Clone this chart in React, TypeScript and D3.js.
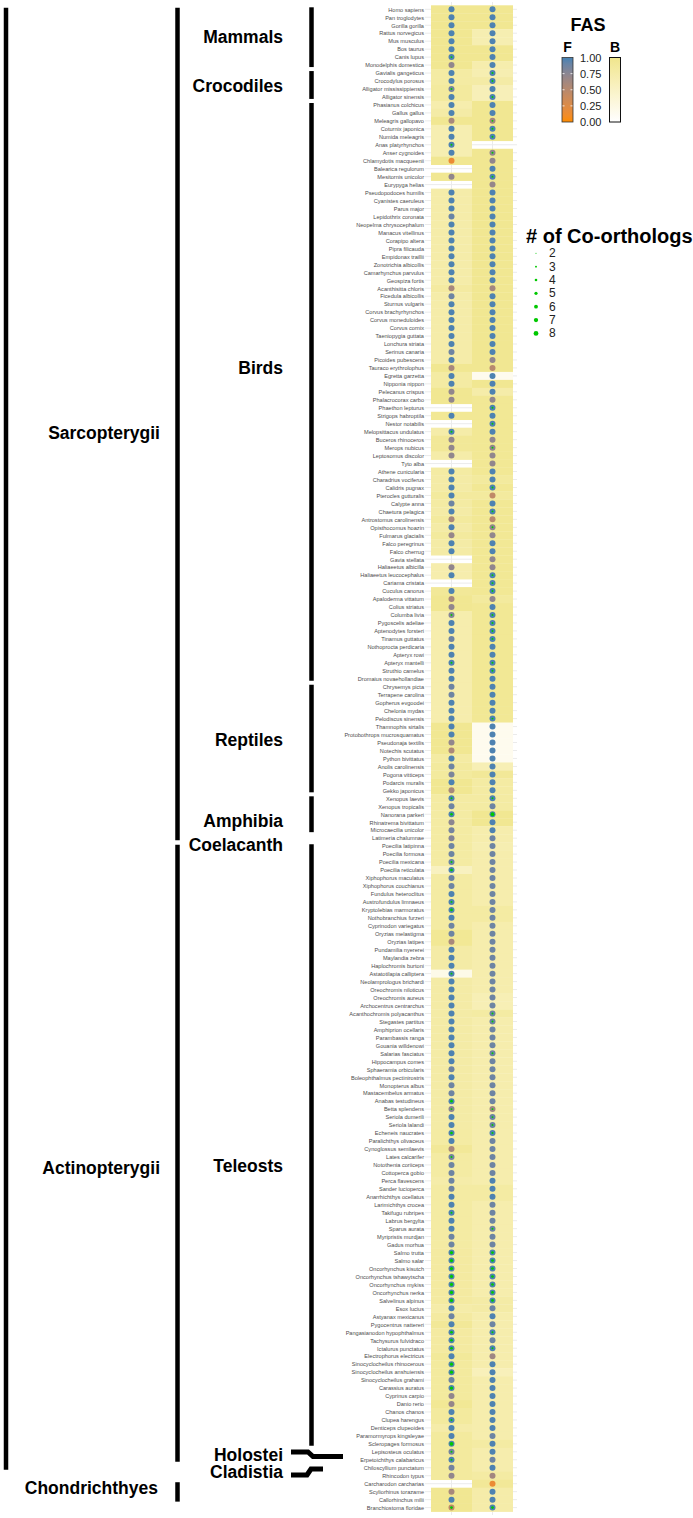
import React from "react";
import * as d3 from "d3";

const species = [
  "Homo sapiens","Pan troglodytes","Gorilla gorilla","Rattus norvegicus","Mus musculus","Bos taurus","Canis lupus","Monodelphis domestica","Gavialis gangeticus","Crocodylus porosus",
  "Alligator mississippiensis","Alligator sinensis","Phasianus colchicus","Gallus gallus","Meleagris gallopavo","Coturnix japonica","Numida meleagris","Anas platyrhynchos","Anser cygnoides","Chlamydotis macqueenii",
  "Balearica regulorum","Mesitornis unicolor","Eurypyga helias","Pseudopodoces humilis","Cyanistes caeruleus","Parus major","Lepidothrix coronata","Neopelma chrysocephalum","Manacus vitellinus","Corapipo altera",
  "Pipra filicauda","Empidonax traillii","Zonotrichia albicollis","Camarhynchus parvulus","Geospiza fortis","Acanthisitta chloris","Ficedula albicollis","Sturnus vulgaris","Corvus brachyrhynchos","Corvus moneduloides",
  "Corvus cornix","Taeniopygia guttata","Lonchura striata","Serinus canaria","Picoides pubescens","Tauraco erythrolophus","Egretta garzetta","Nipponia nippon","Pelecanus crispus","Phalacrocorax carbo",
  "Phaethon lepturus","Strigops habroptila","Nestor notabilis","Melopsittacus undulatus","Buceros rhinoceros","Merops nubicus","Leptosomus discolor","Tyto alba","Athene cunicularia","Charadrius vociferus",
  "Calidris pugnax","Pterocles gutturalis","Calypte anna","Chaetura pelagica","Antrostomus carolinensis","Opisthocomus hoazin","Fulmarus glacialis","Falco peregrinus","Falco cherrug","Gavia stellata",
  "Haliaeetus albicilla","Haliaeetus leucocephalus","Cariama cristata","Cuculus canorus","Apaloderma vittatum","Colius striatus","Columba livia","Pygoscelis adeliae","Aptenodytes forsteri","Tinamus guttatus",
  "Nothoprocta perdicaria","Apteryx rowi","Apteryx mantelli","Struthio camelus","Dromaius novaehollandiae","Chrysemys picta","Terrapene carolina","Gopherus evgoodei","Chelonia mydas","Pelodiscus sinensis",
  "Thamnophis sirtalis","Protobothrops mucrosquamatus","Pseudonaja textilis","Notechis scutatus","Python bivittatus","Anolis carolinensis","Pogona vitticeps","Podarcis muralis","Gekko japonicus","Xenopus laevis",
  "Xenopus tropicalis","Nanorana parkeri","Rhinatrema bivittatum","Microcaecilia unicolor","Latimeria chalumnae","Poecilia latipinna","Poecilia formosa","Poecilia mexicana","Poecilia reticulata","Xiphophorus maculatus",
  "Xiphophorus couchianus","Fundulus heteroclitus","Austrofundulus limnaeus","Kryptolebias marmoratus","Nothobranchius furzeri","Cyprinodon variegatus","Oryzias melastigma","Oryzias latipes","Pundamilia nyererei","Maylandia zebra",
  "Haplochromis burtoni","Astatotilapia calliptera","Neolamprologus brichardi","Oreochromis niloticus","Oreochromis aureus","Archocentrus centrarchus","Acanthochromis polyacanthus","Stegastes partitus","Amphiprion ocellaris","Parambassis ranga",
  "Gouania willdenowi","Salarias fasciatus","Hippocampus comes","Sphaeramia orbicularis","Boleophthalmus pectinirostris","Monopterus albus","Mastacembelus armatus","Anabas testudineus","Betta splendens","Seriola dumerili",
  "Seriola lalandi","Echeneis naucrates","Paralichthys olivaceus","Cynoglossus semilaevis","Lates calcarifer","Notothenia coriiceps","Cottoperca gobio","Perca flavescens","Sander lucioperca","Anarrhichthys ocellatus",
  "Larimichthys crocea","Takifugu rubripes","Labrus bergylta","Sparus aurata","Myripristis murdjan","Gadus morhua","Salmo trutta","Salmo salar","Oncorhynchus kisutch","Oncorhynchus tshawytscha",
  "Oncorhynchus mykiss","Oncorhynchus nerka","Salvelinus alpinus","Esox lucius","Astyanax mexicanus","Pygocentrus nattereri","Pangasianodon hypophthalmus","Tachysurus fulvidraco","Ictalurus punctatus","Electrophorus electricus",
  "Sinocyclocheilus rhinocerous","Sinocyclocheilus anshuiensis","Sinocyclocheilus grahami","Carassius auratus","Cyprinus carpio","Danio rerio","Chanos chanos","Clupea harengus","Denticeps clupeoides","Paramormyrops kingsleyae",
  "Scleropages formosus","Lepisosteus oculatus","Erpetoichthys calabaricus","Chiloscyllium punctatum","Rhincodon typus","Carcharodon carcharias","Scyliorhinus torazame","Callorhinchus milii","Branchiostoma floridae"
];

const genes = ["gene1", "gene2"];

// gene 1 (left column): forward FAS (dot colour), backward FAS (tile), co-orthologs
const fwd1 = [
  .98,.98,.98,.98,.98,.98,.98,.72,.98,.98,
  .85,.98,.98,.98,.6,.98,.98,.98,.98,.15,
  null,.72,null,.98,.98,.98,.9,.98,.98,.98,
  .98,.98,.98,.98,.98,.6,.88,.98,.98,.98,
  .98,.98,.98,.88,.98,.6,.98,.98,.72,.72,
  null,.98,null,.98,.72,.72,.72,null,.98,.98,
  .98,.98,.88,.98,.6,.98,.7,.98,.98,null,
  .72,.98,null,.98,.6,.72,.78,.98,.98,.88,
  .98,.98,.98,.98,.98,.88,.88,.98,.98,.98,
  .98,.98,.72,.58,.98,.88,.82,.98,.6,.98,
  .88,.98,.75,.85,.78,.88,.88,.9,.98,.88,
  .88,.98,.98,.98,.98,.88,.88,.6,.98,.98,
  .98,.98,.98,.98,.98,.98,.98,.98,.98,.98,
  .98,.98,.98,.88,.98,.88,.88,.98,.75,.98,
  .98,.98,.98,.6,.85,.88,.88,.88,.88,.98,
  .98,.98,.98,.98,.88,.88,.98,.98,.98,.98,
  .98,.98,.98,.98,.88,.98,.98,.98,.98,.98,
  .98,.98,.88,.98,.72,.7,.98,.98,.98,.98,
  .98,.85,.98,.85,.72,null,.6,.98,.45
];
const bwd1 = [
  .95,.95,.95,.95,.95,.95,.95,.95,.8,.8,
  .85,.85,.72,.78,.95,.68,.68,.68,.68,.95,
  null,.95,null,.75,.75,.75,.75,.75,.75,.75,
  .75,.75,.75,.75,.75,.82,.75,.75,.75,.75,
  .75,.75,.75,.75,.75,.95,.8,.8,.95,.95,
  null,.92,null,.75,.9,.9,.75,null,.8,.78,
  .78,.85,.8,.78,.85,.78,.85,.78,.78,null,
  .72,.72,null,.9,.95,.95,.72,.72,.72,.72,
  .72,.72,.72,.72,.72,.72,.72,.72,.72,.72,
  .95,.95,.95,.95,.8,.85,.85,.95,.95,.8,
  .8,.8,.8,.8,.8,.8,.8,.8,.55,.8,
  .8,.8,.8,.8,.8,.8,.92,.92,.78,.78,
  .78,.2,.78,.78,.78,.78,.78,.78,.78,.78,
  .78,.78,.78,.78,.78,.78,.78,.78,.78,.78,
  .78,.8,.8,.9,.8,.8,.8,.75,.8,.8,
  .8,.8,.8,.8,.8,.8,.82,.82,.82,.82,
  .82,.82,.82,.75,.82,.9,.82,.82,.82,.88,
  .85,.85,.85,.85,.85,.92,.85,.85,.75,.85,
  .85,.85,.85,.85,.85,null,.95,.95,.95
];
const co1 = [
  0,0,0,0,0,0,3,0,0,0,
  3,0,0,0,0,0,0,3,0,0,
  0,0,0,0,0,0,0,0,0,0,
  0,0,0,0,0,0,0,0,0,0,
  0,0,0,0,0,0,0,0,0,0,
  0,0,0,3,0,0,0,0,0,0,
  0,0,0,0,0,0,0,0,0,0,
  0,0,0,0,0,0,3,0,0,0,
  0,0,3,0,0,0,0,0,0,0,
  0,0,0,0,0,0,0,0,0,3,
  0,4,0,0,0,0,0,3,4,0,
  0,0,3,4,0,0,0,0,0,0,
  0,3,0,0,0,0,0,0,0,0,
  0,0,0,0,0,0,0,4,3,0,
  0,4,0,0,3,0,0,0,0,0,
  0,3,0,0,0,0,5,5,5,5,
  5,5,5,0,0,0,4,4,4,0,
  5,5,0,5,0,0,0,3,0,0,
  6,3,3,0,0,0,0,0,4
];

// gene 2 (right column)
const fwd2 = [
  .98,.98,.98,.98,.98,.98,.98,.98,.98,.98,
  .98,.98,.98,.98,.62,.98,.98,null,.72,.72,
  .98,.98,.7,.98,.98,.98,.98,.98,.98,.98,
  .98,.98,.98,.98,.98,.62,.98,.98,.98,.98,
  .98,.98,.98,.98,.72,.5,.98,.98,.98,.72,
  .98,.98,.98,.98,.72,.72,.72,.72,.98,.98,
  .98,.45,.98,.98,.5,.72,.72,.98,.98,.72,
  .72,.98,.98,.98,.72,.98,.98,.98,.98,.98,
  .98,.98,.98,.98,.98,.98,.98,.98,.98,.98,
  .98,.98,.98,.98,.98,.98,.98,.98,.98,.98,
  .88,.98,.98,.98,.88,.88,.88,.88,.88,.88,
  .88,.88,.88,.88,.88,.88,.88,.88,.88,.88,
  .88,.88,.88,.88,.88,.88,.88,.88,.88,.88,
  .88,.88,.88,.88,.88,.88,.88,.88,.65,.88,
  .88,.98,.88,.88,.88,.88,.88,.98,.98,.98,
  .88,.88,.88,.88,.88,.88,.98,.98,.98,.98,
  .98,.98,.98,.88,.98,.88,.98,.88,.98,.65,
  .98,.98,.98,.98,.98,.98,.98,.98,.98,.88,
  .98,.98,.88,.98,.62,.15,.98,.98,.98
];
const bwd2 = [
  .95,.95,.95,.68,.68,.95,.95,.72,.68,.78,
  .62,.62,.95,.95,.95,.95,.95,null,.95,.95,
  .95,.95,.95,.95,.95,.95,.95,.95,.95,.95,
  .95,.95,.95,.95,.95,.95,.95,.95,.95,.95,
  .95,.95,.95,.95,.95,.95,.15,.95,.75,.92,
  .92,.92,.92,.92,.92,.92,.92,.92,.92,.85,
  .92,.85,.92,.92,.92,.92,.92,.92,.92,.92,
  .92,.92,.92,.92,.85,.92,.92,.92,.92,.92,
  .92,.92,.92,.92,.92,.92,.92,.92,.92,.92,
  .15,.15,.15,.15,.15,.65,.9,.8,.8,.8,
  .8,.95,.95,.72,.72,.68,.72,.72,.72,.72,
  .72,.72,.72,.8,.8,.72,.72,.72,.72,.72,
  .72,.72,.72,.72,.65,.65,.8,.72,.72,.72,
  .72,.72,.72,.72,.72,.72,.72,.72,.72,.72,
  .72,.72,.72,.72,.72,.72,.72,.72,.8,.8,
  .72,.72,.72,.72,.72,.72,.72,.72,.72,.72,
  .72,.72,.78,.78,.72,.72,.72,.72,.72,.72,
  .72,.6,.72,.72,.72,.72,.72,.72,.72,.72,
  .8,.72,.72,.72,.8,.9,.75,.75,.75
];
const co2 = [
  0,0,0,0,0,0,0,0,3,3,
  0,3,0,0,3,3,3,0,3,0,
  0,3,0,0,0,0,0,0,0,0,
  0,0,0,0,0,0,0,0,0,0,
  0,0,0,0,0,0,0,0,0,0,
  3,0,3,0,0,3,0,0,0,0,
  3,0,0,3,0,3,0,0,0,0,
  0,3,3,3,0,0,3,3,3,3,
  0,0,3,3,0,0,0,0,0,3,
  0,0,0,0,0,0,0,0,0,3,
  0,6,0,0,0,0,0,0,0,0,
  0,0,0,0,0,0,0,0,0,0,
  0,0,0,0,0,0,3,3,0,0,
  0,3,0,0,0,0,0,0,3,3,
  3,3,0,0,0,0,0,0,0,0,
  0,0,0,3,0,0,4,4,4,4,
  4,4,4,0,0,0,3,0,3,0,
  0,0,0,0,0,0,0,0,0,0,
  0,0,0,0,0,0,0,0,4
];

const fasTicks = [0, 0.25, 0.5, 0.75, 1];
const coLevels = [2, 3, 4, 5, 6, 7, 8];

// clade brackets (by species range)
const outerClade = { from: "Homo sapiens", to: "Erpetoichthys calabaricus" };
const classClades = [
  { name: "Sarcopterygii", from: "Homo sapiens", to: "Latimeria chalumnae" },
  { name: "Actinopterygii", from: "Poecilia latipinna", to: "Erpetoichthys calabaricus" },
  { name: "Chondrichthyes", from: "Carcharodon carcharias", to: "Callorhinchus milii" },
];
const subClades = [
  { name: "Mammals", from: "Homo sapiens", to: "Monodelphis domestica" },
  { name: "Crocodiles", from: "Gavialis gangeticus", to: "Alligator sinensis" },
  { name: "Birds", from: "Phasianus colchicus", to: "Dromaius novaehollandiae" },
  { name: "Reptiles", from: "Chrysemys picta", to: "Gekko japonicus" },
  { name: "Amphibia", from: "Xenopus laevis", to: "Microcaecilia unicolor" },
  { name: "Teleosts", from: "Poecilia latipinna", to: "Scleropages formosus" },
];
// label placement (annotation layout)
const labelLayout = [
  { name: "Mammals", x: 283, y: 37 },
  { name: "Crocodiles", x: 283, y: 86 },
  { name: "Birds", x: 283, y: 368 },
  { name: "Reptiles", x: 283, y: 740 },
  { name: "Amphibia", x: 283, y: 821 },
  { name: "Coelacanth", x: 283, y: 845 },
  { name: "Teleosts", x: 283, y: 1166 },
  { name: "Holostei", x: 283, y: 1455 },
  { name: "Cladistia", x: 283, y: 1472 },
  { name: "Sarcopterygii", x: 160, y: 433 },
  { name: "Actinopterygii", x: 160, y: 1168 },
  { name: "Chondrichthyes", x: 158, y: 1488 },
];

const FONT = "'Liberation Sans', Arial, Helvetica, sans-serif";

export default function App() {
  const W = 693, H = 1518;
  const y = d3.scaleBand().domain(species).range([5.3, 1511.6]);
  const x = d3.scaleBand().domain(genes).range([431, 513]);
  const bw = y.bandwidth();
  const colF = d3.scaleLinear<string>().domain([0, 1]).range(["#FF8C00", "#4682B4"]).interpolate(d3.interpolateLab);
  const colB = d3.scaleLinear<string>().domain([0, 1]).range(["#FFFFFF", "#F0E68C"]).interpolate(d3.interpolateLab);
  const rCo = d3.scaleSqrt().domain([1, 8]).range([0, 2.4]);
  const legY = d3.scaleLinear().domain([0, 1]).range([122, 57.5]);

  const cols = [
    { g: "gene1", fwd: fwd1, bwd: bwd1, co: co1 },
    { g: "gene2", fwd: fwd2, bwd: bwd2, co: co2 },
  ];

  const top = (s: string) => (y(s) as number);
  const bot = (s: string) => (y(s) as number) + bw;

  return (
    <svg width={W} height={H} style={{ position: "absolute", left: 0, top: 0, display: "block", background: "#fff" }} fontFamily={FONT}>
      {/* grid */}
      {species.map((s) => (
        <line key={"gh" + s} x1={425} x2={517} y1={top(s) + bw / 2} y2={top(s) + bw / 2} stroke="#EBEBEB" strokeWidth={1} />
      ))}
      {genes.map((g) => (
        <line key={"gv" + g} x1={(x(g) as number) + x.bandwidth() / 2} x2={(x(g) as number) + x.bandwidth() / 2} y1={2} y2={1515} stroke="#EBEBEB" strokeWidth={1} />
      ))}
      {/* tiles */}
      {cols.map((c) =>
        species.map((s, i) =>
          c.bwd[i] == null ? null : (
            <rect key={"t" + c.g + i} x={x(c.g)} y={top(s)} width={x.bandwidth()} height={bw + 0.3} fill={colB(c.bwd[i] as number)} />
          )
        )
      )}
      {/* dots */}
      {cols.map((c) =>
        species.map((s, i) =>
          c.fwd[i] == null ? null : (
            <circle key={"d" + c.g + i} cx={(x(c.g) as number) + x.bandwidth() / 2} cy={top(s) + bw / 2} r={3} fill={colF(c.fwd[i] as number)} />
          )
        )
      )}
      {cols.map((c) =>
        species.map((s, i) =>
          c.co[i] > 1 && c.fwd[i] != null ? (
            <circle key={"c" + c.g + i} cx={(x(c.g) as number) + x.bandwidth() / 2} cy={top(s) + bw / 2} r={rCo(c.co[i])} fill="#00C800" />
          ) : null
        )
      )}
      {/* species labels */}
      {species.map((s) => (
        <text key={"l" + s} x={424} y={top(s) + bw / 2 + 0.3} fontSize={5.6} fill="#4D4D4D" textAnchor="end" dominantBaseline="central">{s}</text>
      ))}

      {/* brackets */}
      <line x1={6} x2={6} y1={top(outerClade.from) + 2.5} y2={bot(outerClade.to) + 6} stroke="#000" strokeWidth={4.5} />
      {classClades.map((c) => (
        <line key={"cc" + c.name} x1={177.5} x2={177.5} y1={top(c.from) + 2.5} y2={bot(c.to) - 2} stroke="#000" strokeWidth={4.5} />
      ))}
      {subClades.map((c) => (
        <line key={"sc" + c.name} x1={311.5} x2={311.5} y1={top(c.from) + 2} y2={bot(c.to) - 2} stroke="#000" strokeWidth={4.5} />
      ))}
      <path d="M291,1452 H308 L313,1456.5 H343" fill="none" stroke="#000" strokeWidth={5} />
      <path d="M291,1475 H307 L311,1469 H323" fill="none" stroke="#000" strokeWidth={5} />
      {labelLayout.map((l) => (
        <text key={"lab" + l.name} x={l.x} y={l.y} fontSize={17.5} fontWeight="bold" textAnchor="end" dominantBaseline="central" fill="#000">{l.name}</text>
      ))}

      {/* FAS legend */}
      <defs>
        <linearGradient id="gradF" x1="0" y1="1" x2="0" y2="0">
          {d3.range(0, 1.001, 0.1).map((t) => (
            <stop key={"f" + t} offset={t} stopColor={colF(t)} />
          ))}
        </linearGradient>
        <linearGradient id="gradB" x1="0" y1="1" x2="0" y2="0">
          {d3.range(0, 1.001, 0.1).map((t) => (
            <stop key={"b" + t} offset={t} stopColor={colB(t)} />
          ))}
        </linearGradient>
      </defs>
      <text x={588} y={24.5} fontSize={18} fontWeight="bold" textAnchor="middle" dominantBaseline="central">FAS</text>
      <text x={567.5} y={46.5} fontSize={14} fontWeight="bold" textAnchor="middle" dominantBaseline="central">F</text>
      <text x={615} y={46.5} fontSize={14} fontWeight="bold" textAnchor="middle" dominantBaseline="central">B</text>
      <rect x={562} y={legY(1)} width={11} height={legY(0) - legY(1)} fill="url(#gradF)" stroke="#333" strokeWidth={0.8} />
      <rect x={609.5} y={legY(1)} width={11} height={legY(0) - legY(1)} fill="url(#gradB)" stroke="#111" strokeWidth={1} />
      {fasTicks.slice(1, 4).map((t) => (
        <g key={"tk" + t}>
          <line x1={562.5} x2={564.5} y1={legY(t)} y2={legY(t)} stroke="#fff" strokeWidth={0.8} />
          <line x1={570.5} x2={572.5} y1={legY(t)} y2={legY(t)} stroke="#fff" strokeWidth={0.8} />
        </g>
      ))}
      {fasTicks.map((t) => (
        <text key={"tl" + t} x={580} y={legY(t)} fontSize={11} fill="#222" dominantBaseline="central">{d3.format(".2f")(t)}</text>
      ))}

      {/* Co-orthologs legend */}
      <text x={526} y={236} fontSize={20} fontWeight="bold" dominantBaseline="central">{"# of Co-orthologs"}</text>
      {coLevels.map((k, i) => (
        <g key={"co" + k}>
          <circle cx={536} cy={253.3 + i * 13.35} r={rCo(k)} fill="#00C800" />
          <text x={549} y={253.3 + i * 13.35} fontSize={12} fill="#222" dominantBaseline="central">{k}</text>
        </g>
      ))}
    </svg>
  );
}
